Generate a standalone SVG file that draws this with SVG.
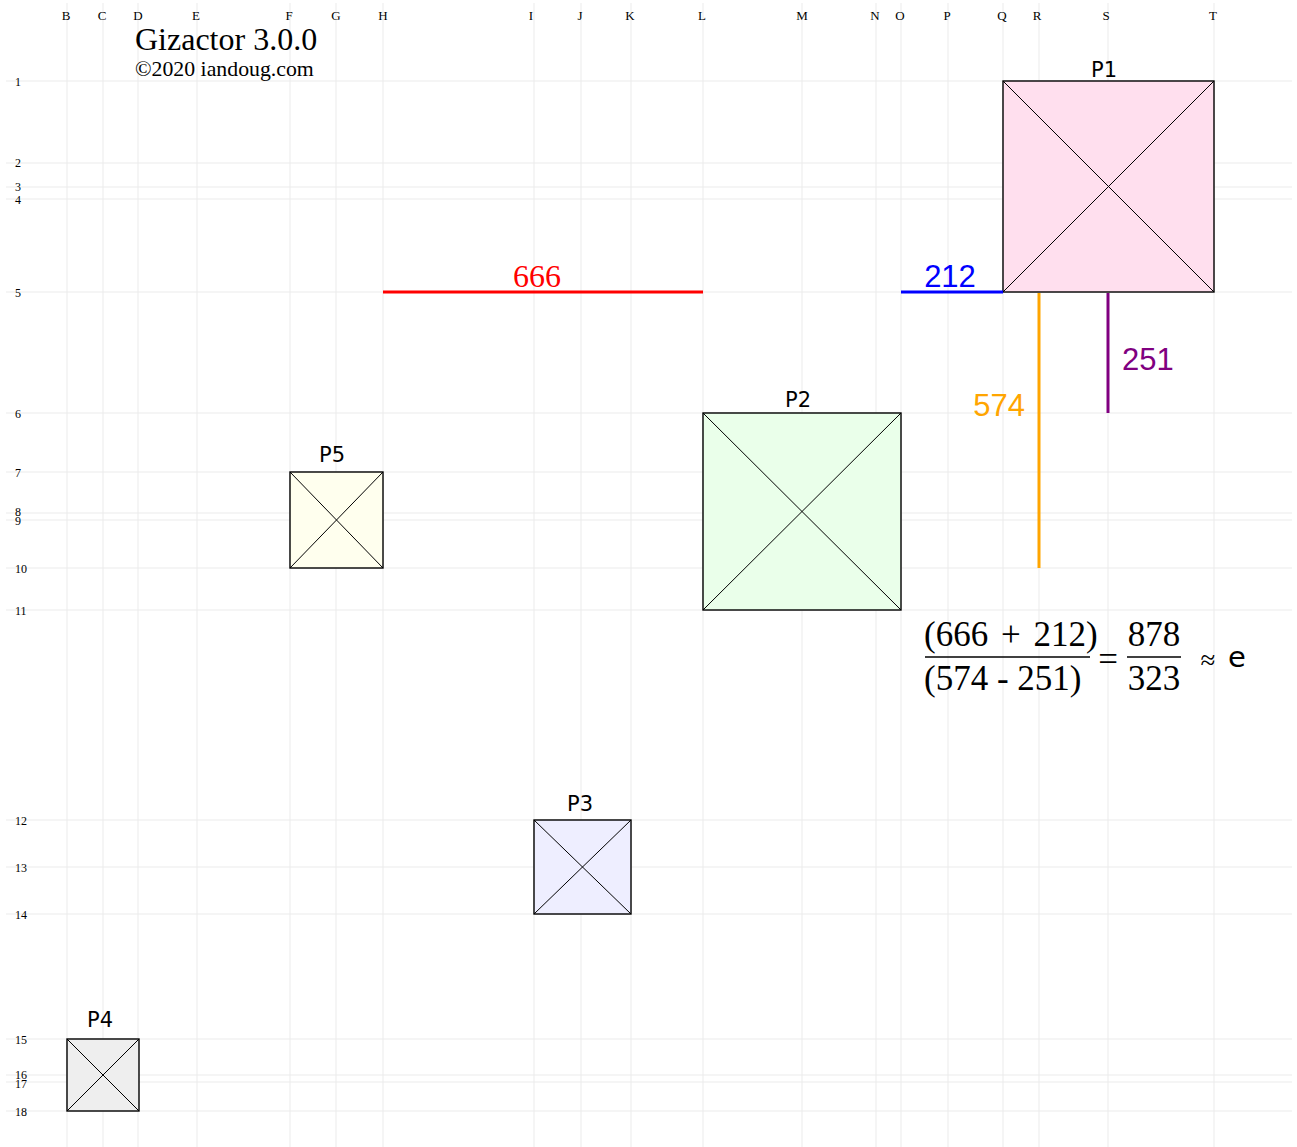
<svg xmlns="http://www.w3.org/2000/svg" width="1297" height="1147" viewBox="0 0 1297 1147">
<style>
.g{stroke:#ebebeb;stroke-width:1;fill:none}
.cl{font-family:"Liberation Serif",serif;font-size:13px;text-anchor:middle;fill:#000}
.rl{font-family:"Liberation Serif",serif;font-size:12px;dominant-baseline:central;fill:#000}
.box{stroke:#000;stroke-width:1.4}
.x{stroke:#000;stroke-width:1;fill:none}
.nl{font-family:"DejaVu Sans","Liberation Sans",sans-serif;font-size:21px;text-anchor:middle;fill:#000}
.f{font-family:"Liberation Serif",serif;font-size:35px;fill:#000}
.dim{stroke-width:3;fill:none}
.dl{font-family:"Liberation Sans",sans-serif;font-size:31px}
</style>
<rect width="1297" height="1147" fill="#fff"/>
<g id="grid">
<g class="g">
<line x1="67" y1="3" x2="67" y2="1147"/><line x1="103" y1="3" x2="103" y2="1147"/><line x1="138" y1="3" x2="138" y2="1147"/><line x1="197" y1="3" x2="197" y2="1147"/><line x1="290" y1="3" x2="290" y2="1147"/><line x1="336" y1="3" x2="336" y2="1147"/><line x1="383" y1="3" x2="383" y2="1147"/><line x1="534" y1="3" x2="534" y2="1147"/><line x1="581" y1="3" x2="581" y2="1147"/><line x1="631" y1="3" x2="631" y2="1147"/><line x1="703" y1="3" x2="703" y2="1147"/><line x1="802" y1="3" x2="802" y2="1147"/><line x1="876" y1="3" x2="876" y2="1147"/><line x1="901" y1="3" x2="901" y2="1147"/><line x1="948" y1="3" x2="948" y2="1147"/><line x1="1003" y1="3" x2="1003" y2="1147"/><line x1="1039" y1="3" x2="1039" y2="1147"/><line x1="1108" y1="3" x2="1108" y2="1147"/><line x1="1214" y1="3" x2="1214" y2="1147"/>
<line x1="6" y1="81" x2="1292" y2="81"/><line x1="6" y1="163" x2="1292" y2="163"/><line x1="6" y1="187" x2="1292" y2="187"/><line x1="6" y1="199" x2="1292" y2="199"/><line x1="6" y1="292" x2="1292" y2="292"/><line x1="6" y1="413" x2="1292" y2="413"/><line x1="6" y1="472" x2="1292" y2="472"/><line x1="6" y1="513" x2="1292" y2="513"/><line x1="6" y1="520" x2="1292" y2="520"/><line x1="6" y1="568" x2="1292" y2="568"/><line x1="6" y1="610" x2="1292" y2="610"/><line x1="6" y1="820" x2="1292" y2="820"/><line x1="6" y1="867" x2="1292" y2="867"/><line x1="6" y1="914" x2="1292" y2="914"/><line x1="6" y1="1039" x2="1292" y2="1039"/><line x1="6" y1="1075" x2="1292" y2="1075"/><line x1="6" y1="1082" x2="1292" y2="1082"/><line x1="6" y1="1111" x2="1292" y2="1111"/>
</g>
<g class="cl">
<text x="66" y="20">B</text><text x="102" y="20">C</text><text x="138" y="20">D</text><text x="196" y="20">E</text><text x="289" y="20">F</text><text x="336" y="20">G</text><text x="383" y="20">H</text><text x="531" y="20">I</text><text x="580" y="20">J</text><text x="630" y="20">K</text><text x="702" y="20">L</text><text x="802" y="20">M</text><text x="875" y="20">N</text><text x="900" y="20">O</text><text x="947" y="20">P</text><text x="1002" y="20">Q</text><text x="1037" y="20">R</text><text x="1106" y="20">S</text><text x="1213" y="20">T</text>
</g>
<g class="rl">
<text x="15" y="82">1</text><text x="15" y="163">2</text><text x="15" y="187">3</text><text x="15" y="200">4</text><text x="15" y="293">5</text><text x="15" y="414">6</text><text x="15" y="473">7</text><text x="15" y="512">8</text><text x="15" y="521">9</text><text x="15" y="569">10</text><text x="15" y="611">11</text><text x="15" y="821">12</text><text x="15" y="868">13</text><text x="15" y="915">14</text><text x="15" y="1040">15</text><text x="15" y="1075">16</text><text x="15" y="1084">17</text><text x="15" y="1112">18</text>
</g>
</g>
<g id="title" font-family="Liberation Serif, serif" fill="#000">
<text x="135" y="50" font-size="32">Gizactor 3.0.0</text>
<text x="135" y="76" font-size="21.8">©2020 iandoug.com</text>
</g>
<g id="P1">
<rect class="box" x="1003" y="81" width="211" height="211" fill="#ffdfee"/>
<path class="x" d="M1003 81L1214 292M1214 81L1003 292"/>
<text class="nl" x="1104" y="77">P1</text>
</g>
<g id="P2">
<rect class="box" x="703" y="413" width="198" height="197" fill="#eaffea"/>
<path class="x" d="M703 413L901 610M901 413L703 610"/>
<text class="nl" x="798" y="407">P2</text>
</g>
<g id="P5">
<rect class="box" x="290" y="472" width="93" height="96" fill="#ffffee"/>
<path class="x" d="M290 472L383 568M383 472L290 568"/>
<text class="nl" x="332" y="462">P5</text>
</g>
<g id="P3">
<rect class="box" x="534" y="820" width="97" height="94" fill="#eeeeff"/>
<path class="x" d="M534 820L631 914M631 820L534 914"/>
<text class="nl" x="580" y="811">P3</text>
</g>
<g id="P4">
<rect class="box" x="67" y="1039" width="72" height="72" fill="#eeeeee"/>
<path class="x" d="M67 1039L139 1111M139 1039L67 1111"/>
<text class="nl" x="100" y="1027">P4</text>
</g>
<g id="connectors">
<line class="dim" x1="383" y1="292" x2="703" y2="292" stroke="#ff0000"/>
<line class="dim" x1="901" y1="292" x2="1003" y2="292" stroke="#0000ff"/>
<line class="dim" x1="1039" y1="293" x2="1039" y2="568" stroke="#ffa500"/>
<line class="dim" x1="1108" y1="293" x2="1108" y2="413" stroke="#800080"/>
<text x="537" y="287" font-family="Liberation Serif, serif" font-size="32" fill="#ff0000" text-anchor="middle">666</text>
<text class="dl" x="950" y="287" fill="#0000ff" text-anchor="middle">212</text>
<text class="dl" x="1025" y="416" fill="#ffa500" text-anchor="end">574</text>
<text class="dl" x="1122" y="370" fill="#800080">251</text>
</g>
<g id="formula">
<text class="f" x="924" y="646" word-spacing="4">(666 + 212)</text>
<line x1="925" y1="657" x2="1090" y2="657" stroke="#000" stroke-width="1.5"/>
<text class="f" x="924" y="690">(574 - 251)</text>
<text class="f" x="1108" y="671" text-anchor="middle">=</text>
<text class="f" x="1154" y="646" text-anchor="middle">878</text>
<line x1="1127" y1="657" x2="1181" y2="657" stroke="#000" stroke-width="1.5"/>
<text class="f" x="1154" y="690" text-anchor="middle">323</text>
<text x="1208" y="669" font-family="Liberation Serif, serif" font-size="27" text-anchor="middle">≈</text>
<text x="1237" y="667" font-family="DejaVu Sans, Liberation Sans, sans-serif" font-size="29" text-anchor="middle">e</text>
</g>
</svg>
